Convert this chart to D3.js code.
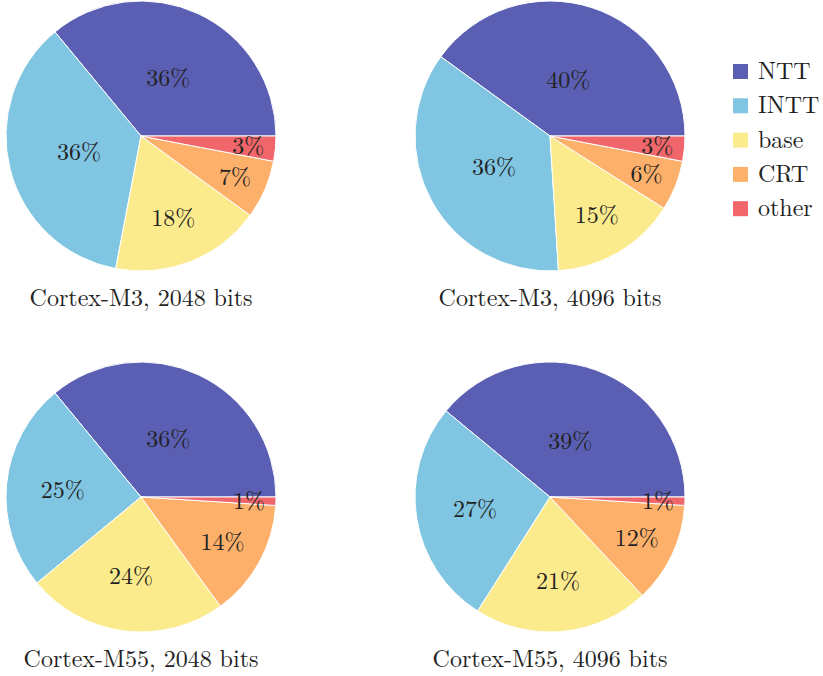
<!DOCTYPE html>
<html>
<head>
<meta charset="utf-8">
<script src="https://cdn.jsdelivr.net/npm/d3@7"></script>
<style>
  body { margin: 0; background: #fff; }
</style>
</head>
<body>
<svg width="823" height="676"></svg>
<script>
  const categories = ['NTT', 'INTT', 'base', 'CRT', 'other'];
  const colors = ['#5a5fb3', '#80c5e1', '#fbeb8c', '#fdb06a', '#f0666a'];

  const titles = ['Cortex-M3, 2048 bits', 'Cortex-M3, 4096 bits',
                  'Cortex-M55, 2048 bits', 'Cortex-M55, 4096 bits'];
  const m3_2048 = [36, 36, 18, 7, 3];
  const m3_4096 = [40, 36, 15, 6, 3];
  const m55_2048 = [36, 25, 24, 14, 1];
  const m55_4096 = [39, 27, 21, 12, 1];
  const series = [m3_2048, m3_4096, m55_2048, m55_4096];

  const svg = d3.select('svg');
  const font = "'Latin Modern Roman', 'Liberation Serif', serif";
  const r = 135;
  const centers = [[141, 136], [550, 136], [141, 497], [550, 497]];

  // slices go counterclockwise starting at 3 o'clock (like pgf-pie)
  const pie = d3.pie().sort(null)
    .startAngle(Math.PI / 2)
    .endAngle(Math.PI / 2 - 2 * Math.PI);
  const arc = d3.arc().innerRadius(0).outerRadius(r);

  series.forEach((vals, i) => {
    const g = svg.append('g')
      .attr('transform', `translate(${centers[i][0]},${centers[i][1]})`);
    const arcs = pie(vals);

    g.selectAll('path').data(arcs)
      .enter().append('path')
        .attr('d', arc)
        .attr('fill', (d, k) => colors[k])
        .attr('stroke', '#fff')
        .attr('stroke-width', 1)
        .attr('stroke-linejoin', 'round');

    g.selectAll('text.pct').data(arcs)
      .enter().append('text')
        .attr('class', 'pct')
        .style('font-family', font)
        .style('font-size', '24px')
        .attr('fill', '#222')
        .attr('text-anchor', 'middle')
        .attr('dy', '0.34em')
        .attr('transform', d => {
          const span = Math.abs(d.endAngle - d.startAngle) * 180 / Math.PI;
          const f = Math.max(Math.min((span - 10) / 110 * -0.3, 0), -0.5) + 0.8;
          const a = (d.startAngle + d.endAngle) / 2;
          return `translate(${Math.sin(a) * f * r},${-Math.cos(a) * f * r})`;
        })
        .text(d => d.data + '%');

    g.append('text')
      .style('font-family', font)
      .style('font-size', '24px')
      .attr('fill', '#222')
      .attr('text-anchor', 'middle')
      .attr('y', r + 35)
      .text(titles[i]);
  });

  const legend = svg.append('g').attr('transform', 'translate(733,64)');
  const rows = legend.selectAll('g').data(categories)
    .enter().append('g')
      .attr('transform', (d, i) => `translate(0,${i * 34.3})`);
  rows.append('rect')
    .attr('width', 15).attr('height', 15)
    .attr('fill', (d, i) => colors[i]);
  rows.append('text')
    .style('font-family', font)
    .style('font-size', '24px')
    .attr('fill', '#222')
    .attr('x', 25).attr('y', 15)
    .text(d => d);
</script>
</body>
</html>
